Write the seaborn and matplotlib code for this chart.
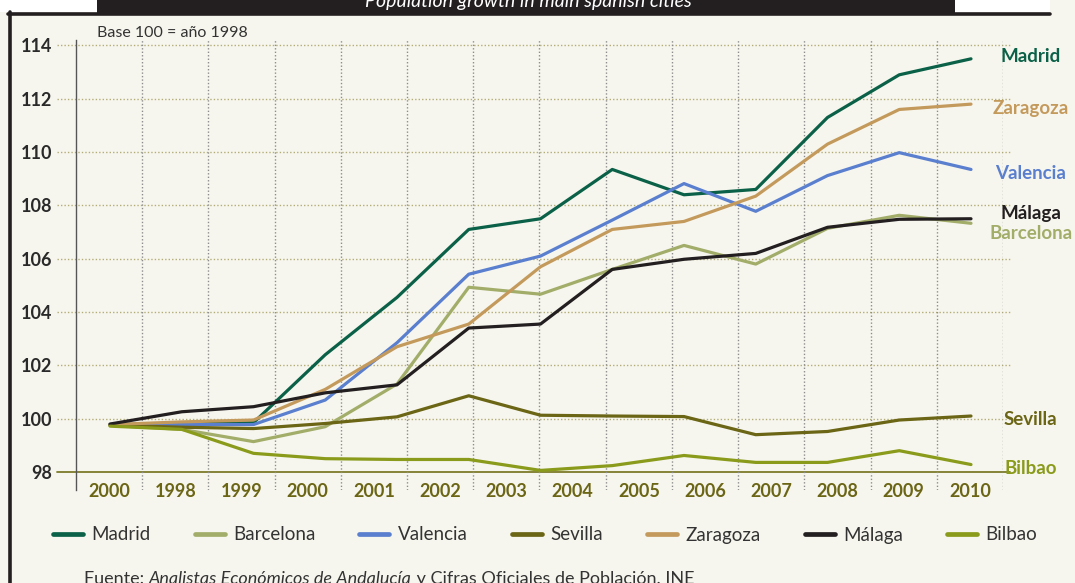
import numpy as np
import pandas as pd
import matplotlib
matplotlib.use("Agg")
import matplotlib.pyplot as plt
import seaborn as sns
from matplotlib.patches import Rectangle
from matplotlib.lines import Line2D

# ── data (index, base 100 = 1998)
years = list(range(1998, 2011))
madrid    = [99.78, 99.80, 99.85, 102.40, 104.55, 107.10, 107.50, 109.35, 108.40, 108.60, 111.30, 112.90, 113.50]
barcelona = [99.75, 99.60, 99.14, 99.70, 101.30, 104.93, 104.67, 105.60, 106.50, 105.80, 107.14, 107.63, 107.33]
valencia  = [99.78, 99.78, 99.78, 100.70, 102.85, 105.42, 106.10, 107.45, 108.82, 107.78, 109.12, 109.98, 109.35]
sevilla   = [99.75, 99.68, 99.63, 99.82, 100.07, 100.86, 100.13, 100.10, 100.08, 99.40, 99.52, 99.95, 100.10]
zaragoza  = [99.78, 99.88, 99.95, 101.10, 102.70, 103.55, 105.70, 107.10, 107.40, 108.35, 110.30, 111.60, 111.80]
malaga    = [99.80, 100.26, 100.45, 100.97, 101.27, 103.40, 103.55, 105.60, 105.98, 106.20, 107.18, 107.48, 107.50]
bilbao    = [99.72, 99.60, 98.70, 98.50, 98.47, 98.47, 98.06, 98.24, 98.62, 98.36, 98.36, 98.80, 98.28]

cities = ["Madrid", "Barcelona", "Valencia", "Sevilla", "Zaragoza", "Málaga", "Bilbao"]
series = [madrid, barcelona, valencia, sevilla, zaragoza, malaga, bilbao]
colors = ["#0b6148", "#a3ad6a", "#5a7fcf", "#6b6516", "#c49a5c", "#231f20", "#8a9b1c"]

# x tick labels as printed on the original (14 slots)
tick_labels = ["2000", "1998", "1999", "2000", "2001", "2002", "2003", "2004",
               "2005", "2006", "2007", "2008", "2009", "2010"]
y_ticks = [98, 100, 102, 104, 106, 108, 110, 112, 114]

# right-hand end labels (y position in data units)
end_label_y = {"Madrid": 113.6, "Zaragoza": 111.62, "Valencia": 109.18, "Málaga": 107.68,
               "Barcelona": 106.93, "Sevilla": 99.96, "Bilbao": 98.13}

df = pd.DataFrame({
    "year": np.tile(years, len(cities)),
    "city": np.repeat(cities, len(years)),
    "value": np.concatenate(series),
})
palette = dict(zip(cities, colors))

# ── style
BG = "#f7f6ee"
sns.set_theme(style="white")
plt.rcParams["font.family"] = ["Lato", "DejaVu Sans"]

W, H = 1075, 583
fig = plt.figure(figsize=(W / 100, H / 100), dpi=100, facecolor=BG)

def fx(px):
    return px / W

def fy(py):
    return 1 - py / H

ax = fig.add_axes([fx(76), fy(490), fx(927), 450 / H])
ax.set_facecolor(BG)

xmin, xmax = 1997.526, 2010.446
ymin, ymax = 97.325, 114.206
ax.set_xlim(xmin, xmax)
ax.set_ylim(ymin, ymax)

# grid: horizontal dotted khaki lines, solid base line at 98
for v in y_ticks:
    if v == 98:
        ax.axhline(v, xmin=-0.0205, xmax=1.0076, color="#7d7a2a", lw=1.3,
                   clip_on=False, zorder=1)
    else:
        ax.axhline(v, xmin=-0.0205, xmax=1.0076, color="#b3ad78", lw=1.0,
                   ls=(0, (1, 1.5)), clip_on=False, zorder=1)

# vertical dotted separators between label slots
bounds = np.linspace(xmin, xmax, len(tick_labels) + 1)
for b in bounds[1:]:
    ax.axvline(b, color="#8c8c8c", lw=1.0, ls=(0, (1, 1.5)), zorder=1)

sns.lineplot(data=df, x="year", y="value", hue="city", hue_order=cities,
             palette=palette, lw=2.3, ax=ax, legend=False, zorder=3)

mids = (bounds[:-1] + bounds[1:]) / 2
ax.set_xticks(mids)
ax.set_xticklabels(tick_labels, fontsize=13, fontweight="bold", color="#6b6516")
ax.set_yticks(y_ticks)
ax.set_yticklabels([str(v) for v in y_ticks], fontsize=13, fontweight="bold", color="#2a2a2a")
ax.tick_params(axis="x", length=0, pad=-5)
ax.tick_params(axis="y", length=0, pad=17)
ax.set_xlabel("")
ax.set_ylabel("")

for s in ["top", "right", "bottom"]:
    ax.spines[s].set_visible(False)
ax.spines["left"].set_color("#555555")
ax.spines["left"].set_linewidth(1.0)

# end labels
for city, col in zip(cities, colors):
    ax.text(1.03, end_label_y[city], city, transform=ax.get_yaxis_transform(),
            ha="center", va="center", fontsize=13.5, fontweight="bold", color=col,
            clip_on=False)

# legend
handles = [Line2D([0], [0], color=c, lw=3.4) for c in colors]
fig.legend(handles, cities, loc="center", bbox_to_anchor=(fx(545), fy(535)), ncol=7,
           frameon=False, fontsize=13.5, handlelength=1.6, handletextpad=0.45,
           columnspacing=2.35, labelcolor="#333333")

# base note
fig.text(fx(97), fy(33), "Base 100 = año 1998", fontsize=11.5, color="#333333",
         ha="left", va="center")

# footer (cut at the bottom in the original)
t1 = fig.text(fx(84), fy(571), "Fuente: ", fontsize=13, color="#333333", va="top")
t2 = plt.annotate("Analistas Económicos de Andalucía", xy=(1, 0), xycoords=t1,
                  va="bottom", ha="left", fontsize=13, style="italic", color="#333333",
                  annotation_clip=False)
t3 = plt.annotate(" y Cifras Oficiales de Población. INE", xy=(1, 0), xycoords=t2,
                  va="bottom", ha="left", fontsize=13, color="#333333",
                  annotation_clip=False)

# frame and title banner
fig.patches.append(Rectangle((0, fy(12)), fx(1050), 12 / H, transform=fig.transFigure,
                             facecolor="white", edgecolor="none", zorder=0))
fig.add_artist(Line2D([fx(9.5), fx(9.5)], [fy(12), 0], color="#231f20", lw=2.6))
fig.add_artist(Line2D([fx(8), fx(1050)], [fy(13.5), fy(13.5)], color="#231f20", lw=2.6))
fig.patches.append(Rectangle((fx(97), fy(15)), fx(858), 15 / H, transform=fig.transFigure,
                             facecolor="#231f20", edgecolor="none", zorder=1))
fig.text(fx(528), fy(7), "Population growth in main spanish cities", color="white",
         fontsize=14, style="italic", ha="center", va="baseline", zorder=2)

fig.savefig("out.png", dpi=100, facecolor=BG)
